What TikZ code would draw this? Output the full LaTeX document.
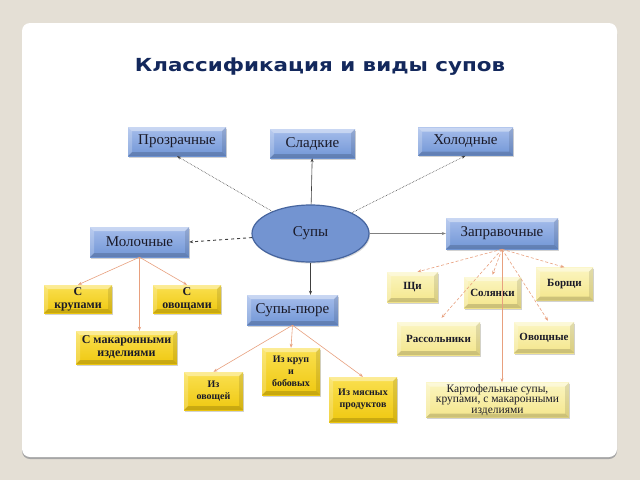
\documentclass[tikz,border=0pt]{standalone}
\usepackage{fontspec}
\setmainfont{Liberation Serif}
\newfontfamily\titlefont{DejaVu Sans}
\usetikzlibrary{shapes.geometric,arrows.meta,shadows}
\definecolor{bgc}{HTML}{E4DFD5}
\definecolor{titlec}{HTML}{13285C}
\definecolor{bluetop}{HTML}{A6BDEB}
\definecolor{bluebot}{HTML}{7196D6}
\definecolor{ellfill}{HTML}{7394D1}
\definecolor{elldraw}{HTML}{46659F}
\definecolor{yeltop}{HTML}{FAE050}
\definecolor{yelbot}{HTML}{EFC810}
\definecolor{paletop}{HTML}{FBF5C0}
\definecolor{palebot}{HTML}{F4E68C}
\definecolor{salmon}{HTML}{E8A07E}
\definecolor{darkln}{HTML}{404040}
\definecolor{boxtext}{HTML}{1A1A28}
\tikzset{
  bevel/.style={path picture={
    \fill[white,opacity=.40] (path picture bounding box.north west) -- (path picture bounding box.north east) -- ([shift={(-4pt,-4pt)}]path picture bounding box.north east) -- ([shift={(4pt,-4pt)}]path picture bounding box.north west) -- cycle;
    \fill[white,opacity=.22] (path picture bounding box.north west) -- (path picture bounding box.south west) -- ([shift={(4pt,4pt)}]path picture bounding box.south west) -- ([shift={(4pt,-4pt)}]path picture bounding box.north west) -- cycle;
    \fill[black,opacity=.16] (path picture bounding box.south west) -- (path picture bounding box.south east) -- ([shift={(-4pt,4pt)}]path picture bounding box.south east) -- ([shift={(4pt,4pt)}]path picture bounding box.south west) -- cycle;
    \fill[black,opacity=.10] (path picture bounding box.north east) -- (path picture bounding box.south east) -- ([shift={(-4pt,4pt)}]path picture bounding box.south east) -- ([shift={(-4pt,-4pt)}]path picture bounding box.north east) -- cycle;
  }},
  basebox/.style={rectangle, inner sep=0pt, align=center, text=boxtext, bevel,
    drop shadow={opacity=.35, shadow xshift=1pt, shadow yshift=-1.5pt}},
  bluebox/.style={basebox, top color=bluetop, bottom color=bluebot, font=\fontsize{15}{16}\selectfont},
  yelbox/.style={basebox, top color=yeltop, bottom color=yelbot, font=\bfseries\fontsize{12}{13}\selectfont},
  yelsmall/.style={basebox, top color=yeltop, bottom color=yelbot, font=\bfseries\fontsize{10}{12}\selectfont},
  palebox/.style={basebox, top color=paletop, bottom color=palebot, font=\bfseries\fontsize{11}{12}\selectfont},
  tipd/.style={-{Stealth[length=4pt,width=3pt]}},
  mainln/.style={tipd, darkln, line width=0.6pt},
  subln/.style={tipd, salmon, line width=0.6pt},
}
\begin{document}
\begin{tikzpicture}[x=1pt,y=-1pt]
\fill[bgc] (0,0) rectangle (640,480);
\useasboundingbox (0,0) rectangle (640,480);
\fill[black!35,rounded corners=8pt] (22,26) rectangle (617,459);
\fill[white,rounded corners=8pt] (22,23) rectangle (617,457);
\node[font=\titlefont\bfseries\fontsize{18}{20}\selectfont, text=titlec] (title) at (320,67) {\scalebox{1.19}[1]{Классификация и виды супов}};

\node[bluebox, minimum width=98pt, minimum height=29pt] (prozr) at (177,141.5) {Прозрачные};
\node[bluebox, minimum width=85pt, minimum height=29pt] (sladk) at (312.5,143.5) {Сладкие};
\node[bluebox, minimum width=95pt, minimum height=28pt] (holod) at (465.5,141.5) {Холодные};
\node[ellipse, fill=ellfill, draw=elldraw, line width=1.2pt, minimum width=117pt, minimum height=57pt, inner sep=0pt, text=boxtext, font=\fontsize{15}{16}\selectfont,
  drop shadow={opacity=.3, shadow xshift=1pt, shadow yshift=-1.5pt}] (supy) at (310.5,233.5) {Супы};
\node[bluebox, minimum width=99pt, minimum height=30pt] (moloch) at (139.5,242) {Молочные};
\node[bluebox, minimum width=112pt, minimum height=31pt] (zapr) at (502,233.5) {Заправочные};
\node[bluebox, minimum width=91pt, minimum height=30pt] (pure) at (292.5,310) {Супы-пюре};

\node[yelbox, minimum width=68pt, minimum height=28pt] (krup) at (78,299) {С\\крупами};
\node[yelbox, minimum width=68pt, minimum height=28pt] (ovosh) at (187,299) {С\\овощами};
\node[yelbox, minimum width=101pt, minimum height=33pt] (makar) at (126.5,347.5) {С макаронными\\изделиями};

\node[palebox, minimum width=51pt, minimum height=30pt] (shchi) at (412.5,287) {Щи};
\node[palebox, minimum width=57pt, minimum height=31pt] (solyan) at (492.5,292.5) {Солянки};
\node[palebox, minimum width=57pt, minimum height=33pt] (borshch) at (564.5,284) {Борщи};
\node[palebox, minimum width=83pt, minimum height=33pt] (rassol) at (438.5,338.5) {Рассольники};
\node[palebox, minimum width=60pt, minimum height=31pt] (ovoshch) at (544,337.5) {Овощные};
\node[basebox, top color=paletop, bottom color=palebot, minimum width=143pt, minimum height=35pt,
  font=\fontsize{11.5}{10.5}\selectfont] (kartof) at (497.5,400) {Картофельные супы,\\крупами, с макаронными\\изделиями};

\node[yelsmall, minimum width=58pt, minimum height=47pt] (izkrup) at (291,371.5) {Из круп\\и\\бобовых};
\node[yelsmall, minimum width=59pt, minimum height=38pt] (izovosh) at (213.5,391) {Из\\овощей};
\node[yelsmall, minimum width=68pt, minimum height=45pt] (izmyas) at (363,399.5) {Из мясных\\продуктов};

% main connectors
\draw[mainln, densely dotted] (supy) -- (prozr.south);
\draw[mainln] (supy) -- (sladk);
\draw[mainln, densely dotted] (supy) -- (holod.south);
\draw[mainln, dashed, line width=0.9pt] (supy) -- (moloch.east);
\draw[mainln, gray] (supy) -- (zapr);
\draw[mainln] (supy.south) -- (supy.south |- pure.north);

% milk
\draw[subln] (moloch.south) -- (krup.north);
\draw[subln] (moloch.south) -- (ovosh.north);
\draw[subln] (moloch.south) -- (moloch.south |- makar.north);

% zapr
\draw[subln, densely dashed] (zapr.south) -- ([xshift=5pt]shchi.north);
\draw[subln, densely dashed] (zapr.south) -- ([yshift=2pt]solyan.north);
\draw[subln, densely dashed] (zapr.south) -- (borshch.north);
\draw[subln, densely dashed] (zapr.south) -- ([shift={(3pt,4pt)}]rassol.north);
\draw[subln, densely dashed] (zapr.south) -- ([shift={(4pt,1pt)}]ovoshch.north);
\draw[subln] (zapr.south) -- (zapr.south |- kartof.north);

% pure
\draw[subln] (pure.south) -- (izovosh.north);
\draw[subln] (pure.south) -- (izkrup.north);
\draw[subln] (pure.south) -- (izmyas.north);
\end{tikzpicture}
\end{document}
